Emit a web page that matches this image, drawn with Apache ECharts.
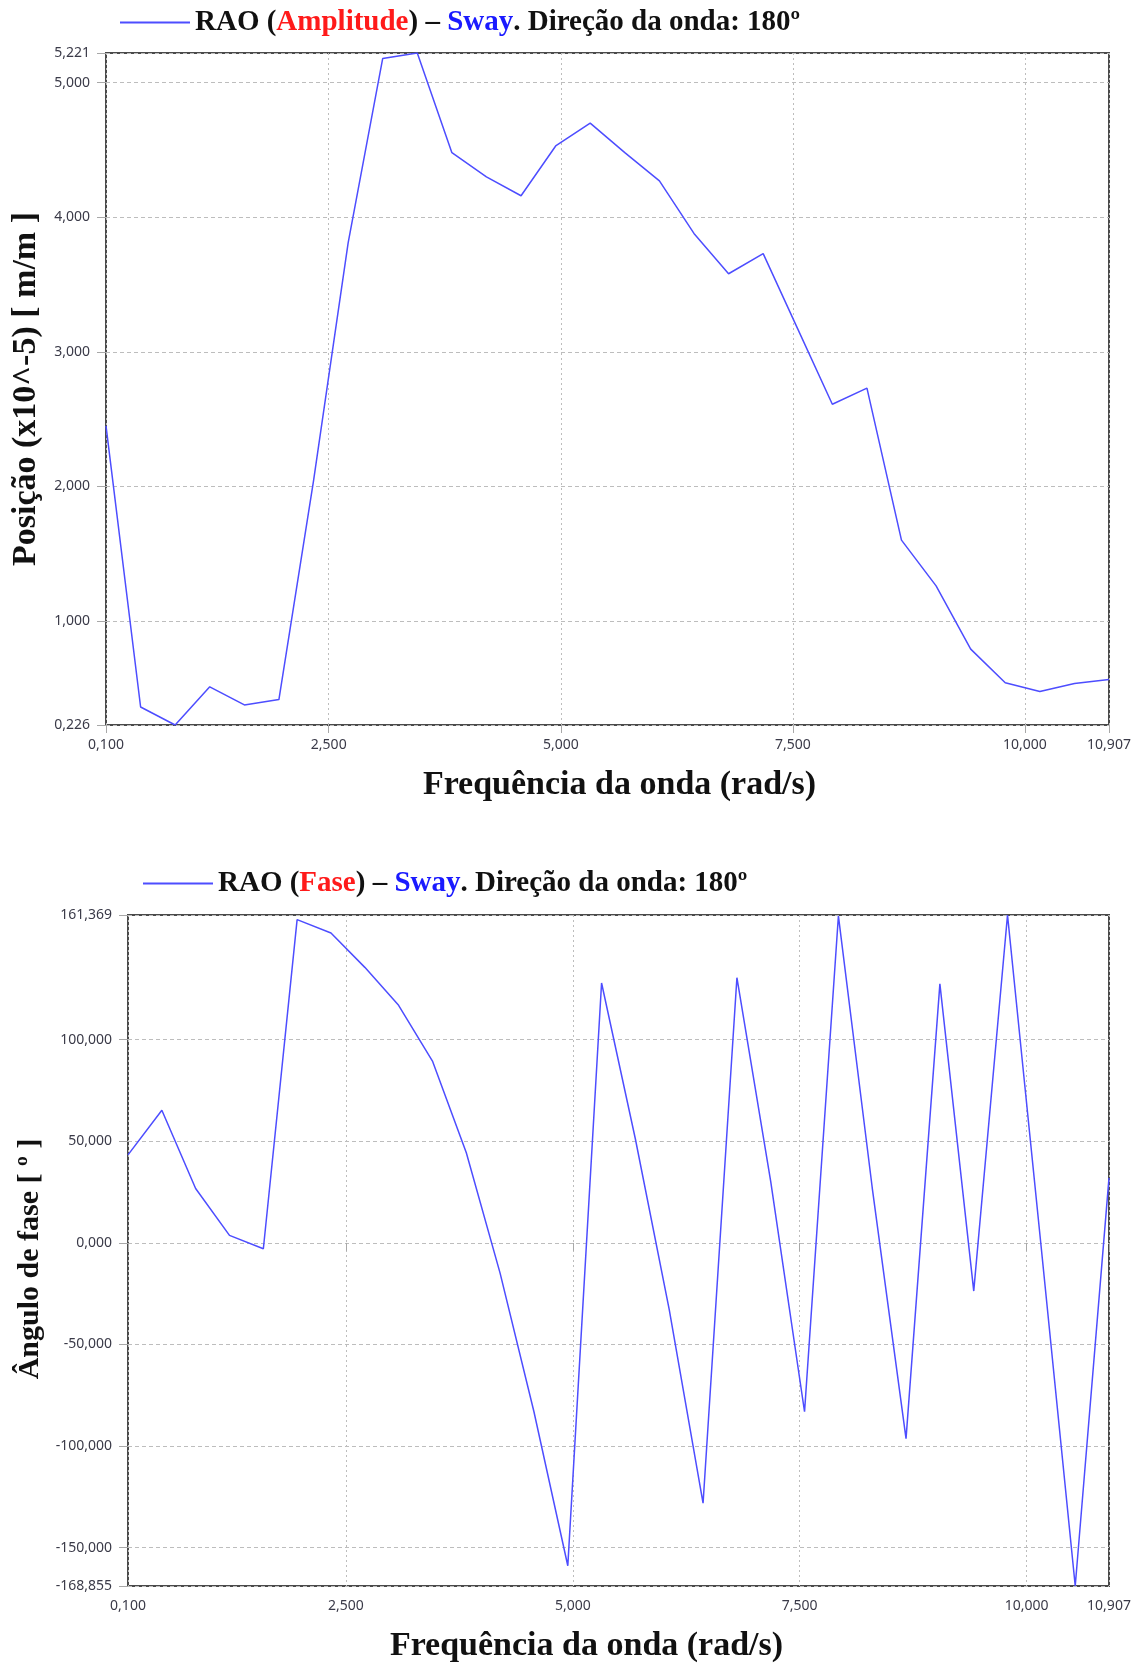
<!DOCTYPE html>
<html>
<head>
<meta charset="utf-8">
<script src="https://cdn.jsdelivr.net/npm/echarts@6/dist/echarts.min.js"></script>
<style>
  html, body { margin: 0; padding: 0; background: #ffffff; }
  #chart { width: 1143px; height: 1664px; }
</style>
</head>
<body>
<div id="chart"></div>
<script>
// Wave frequencies (rad/s) at which the RAO was evaluated
const frequencies = [0.100, 0.473, 0.845, 1.218, 1.591, 1.963, 2.336, 2.709, 3.081, 3.454,
  3.827, 4.199, 4.572, 4.945, 5.317, 5.690, 6.063, 6.435, 6.808, 7.181,
  7.553, 7.926, 8.299, 8.671, 9.044, 9.417, 9.789, 10.162, 10.535, 10.907];

// Sway RAO amplitude (x10^-5 m/m)
const amplitude = [2.45, 0.36, 0.226, 0.51, 0.375, 0.415, 2.04, 3.81, 5.18, 5.221,
  4.48, 4.30, 4.16, 4.53, 4.70, 4.48, 4.27, 3.88, 3.58, 3.73,
  3.17, 2.61, 2.73, 1.60, 1.26, 0.79, 0.54, 0.475, 0.535, 0.565];

// Sway RAO phase angle (degrees)
const phase = [43.3, 65.3, 26.8, 3.7, -2.9, 159.1, 152.5, 135.6, 116.9, 89.5,
  44.4, -14.9, -83.1, -158.9, 127.9, 51.0, -33.0, -128.1, 130.5, 30.0,
  -83.1, 160.9, 27.0, -96.3, 127.5, -23.7, 161.369, -3.0, -168.855, 32.0];

// Tick positions
const freqTicks = [0.1, 2.5, 5, 7.5, 10, 10.907];
const ampTicks = [0.226, 1, 2, 3, 4, 5, 5.221];
const phaseTicks = [-168.855, -150, -100, -50, 0, 50, 100, 161.369];

const ampRange = [0.226, 5.221];
const phaseRange = [-168.855, 161.369];
const freqRange = [0.1, 10.907];

const fmt = v => Number(v).toFixed(3).replace('.', ',');
const pairs = ys => frequencies.map((f, i) => [f, ys[i]]);

const serif = 'Liberation Serif';
const tickFont = { fontFamily: 'Noto Sans', fontSize: 14, color: '#3a3a48' };
const lineColor = '#4d4dff';

const richTitle = {
  n: { fontFamily: serif, fontWeight: 'bold', fontSize: 29, color: '#111111' },
  r: { fontFamily: serif, fontWeight: 'bold', fontSize: 29, color: '#ff1a1a' },
  b: { fontFamily: serif, fontWeight: 'bold', fontSize: 29, color: '#1a1aff' }
};

function xAxisFor(gridIndex, nameShift) {
  return {
    type: 'value', gridIndex, min: freqRange[0], max: freqRange[1],
    name: 'Frequência da onda (rad/s)', nameLocation: 'middle', nameGap: 43,
    nameTextStyle: { fontFamily: serif, fontWeight: 'bold', fontSize: 34, color: '#111',
      padding: nameShift > 0 ? [0, 0, 0, 2 * nameShift] : [0, -2 * nameShift, 0, 0] },
    axisLine: { show: false },
    axisTick: { show: true, length: 8, lineStyle: { color: '#a8a8a8' }, customValues: freqTicks },
    axisLabel: Object.assign({ margin: 13, formatter: fmt, customValues: freqTicks }, tickFont),
    splitLine: { show: true, lineStyle: { color: '#bdbdbd', type: [2, 3], width: 1 } }
  };
}

function yAxisFor(gridIndex, range, ticks, name, gap, size, padding) {
  return {
    type: 'value', gridIndex, min: range[0], max: range[1],
    name, nameLocation: 'middle', nameRotate: 90, nameGap: gap,
    nameTextStyle: { fontFamily: serif, fontWeight: 'bold', fontSize: size, color: '#111', padding },
    axisLine: { show: false },
    axisTick: { show: true, length: 9, lineStyle: { color: '#a8a8a8' }, customValues: ticks },
    axisLabel: Object.assign({ margin: 16, formatter: fmt, customValues: ticks }, tickFont),
    splitLine: { show: true, lineStyle: { color: '#bdbdbd', type: [4, 3], width: 1 } }
  };
}

const chart = echarts.init(document.getElementById('chart'), null, { renderer: 'canvas' });

chart.setOption({
  animation: false,
  backgroundColor: '#ffffff',
  legend: [
    {
      data: ['amplitude'], left: 120, top: 8, padding: 0, icon: 'rect',
      itemWidth: 70, itemHeight: 2,
      formatter: () => '{n|RAO (}{r|Amplitude}{n|) – }{b|Sway}{n|. Direção da onda: 180º}',
      textStyle: { rich: richTitle }
    },
    {
      data: ['fase'], left: 143, top: 869, padding: 0, icon: 'rect',
      itemWidth: 70, itemHeight: 2,
      formatter: () => '{n|RAO (}{r|Fase}{n|) – }{b|Sway}{n|. Direção da onda: 180º}',
      textStyle: { rich: richTitle }
    }
  ],
  grid: [
    { left: 106, top: 53, width: 1003, height: 672, show: true, borderColor: '#4a4a4a', borderWidth: 2, backgroundColor: '#ffffff' },
    { left: 128, top: 915, width: 981, height: 671, show: true, borderColor: '#4a4a4a', borderWidth: 2, backgroundColor: '#ffffff' }
  ],
  xAxis: [xAxisFor(0, 12), xAxisFor(1, -32)],
  yAxis: [
    yAxisFor(0, ampRange, ampTicks, 'Posição (x10^-5) [ m/m ]', 53, 34, 0),
    yAxisFor(1, phaseRange, phaseTicks, 'Ângulo de fase [ º ]', 75, 30, [0, 17, 0, 0])
  ],
  series: [
    {
      name: 'amplitude', type: 'line', xAxisIndex: 0, yAxisIndex: 0,
      data: pairs(amplitude), symbol: 'none', smooth: false,
      lineStyle: { color: lineColor, width: 1.5 }, itemStyle: { color: lineColor }
    },
    {
      name: 'fase', type: 'line', xAxisIndex: 1, yAxisIndex: 1,
      data: pairs(phase), symbol: 'none', smooth: false,
      lineStyle: { color: lineColor, width: 1.5 }, itemStyle: { color: lineColor }
    }
  ]
});
</script>
</body>
</html>
